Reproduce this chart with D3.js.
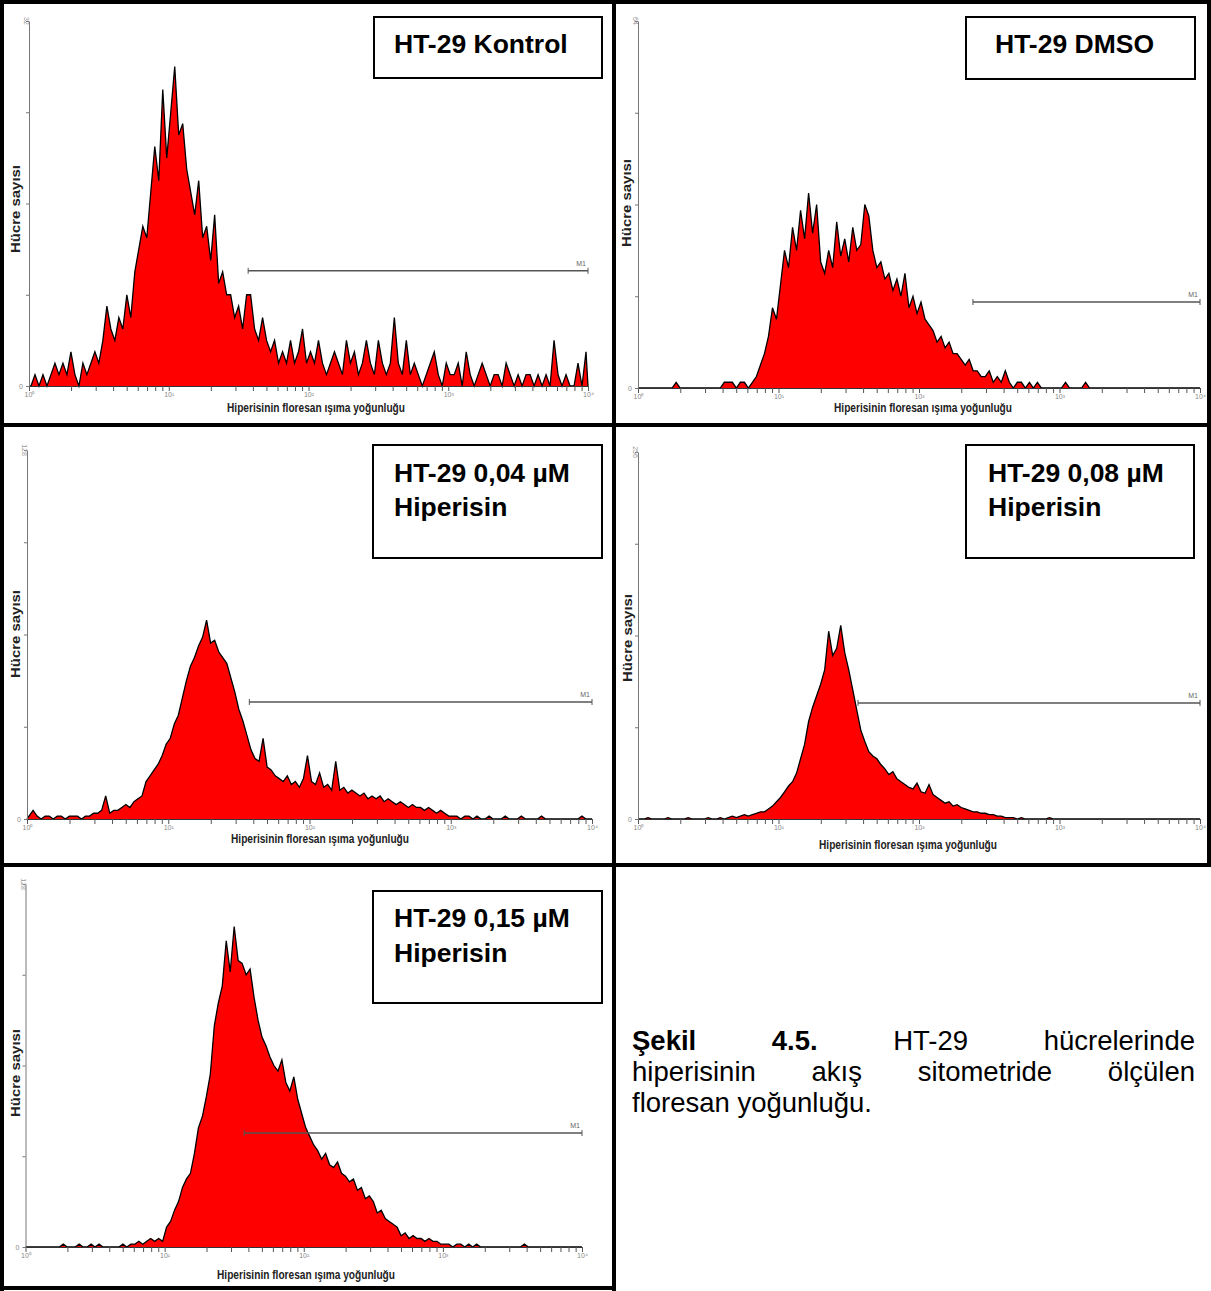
<!DOCTYPE html>
<meta charset="utf-8">
<script src="https://d3js.org/d3.v7.min.js"></script>
<style>
  body { margin: 0; background: #fff; }
  svg { display: block; }
</style>
<div id="fig"></div>
<script>
// --- data (140 log-spaced channels from 10^0 to 10^4) ---
var nChannels = 140;
var panelNames = [["HT-29 Kontrol"], ["HT-29 DMSO"], ["HT-29 0,04 µM", "Hiperisin"],
                  ["HT-29 0,08 µM", "Hiperisin"], ["HT-29 0,15 µM", "Hiperisin"]];
var yMaxes = [32, 64, 128, 256, 128];
var m1Start = [37, 242, 37.5, 36.8, 37.3];
var m1Level = [10.1, 15, 40.6, 81, 40.2];
var decadeTicks = [1, 10, 100, 1000, 10000];
var decadeLabels = ["10\u2070", "10\u00b9", "10\u00b2", "10\u00b3", "10\u2074"];
var xTitle = "Hiperisinin floresan ışıma yoğunluğu";
var yTitle = "Hücre sayısı";

var kontrol = [
  0,1,0,1,0,1,2,1,2,1, 3,1,0,2,1,2,3,2,4,7, 5,4,6,5,8,6,10,12,14,13,
  17,21,18,26,20,24,28,22,23,19, 17,15,18,13,14,11,15,9,10,8, 8,6,7,5,8,8,5,4,6,4,
  3,4,2,3,2,4,2,3,5,2, 3,2,4,2,1,2,3,2,1,4, 2,3,1,2,4,2,1,4,2,1,
  2,6,2,1,4,1,2,1,0,1, 2,3,1,0,2,1,1,2,0,3, 1,0,1,2,1,0,1,1,0,2,
  1,0,1,0,1,1,0,1,0,1, 0,4,1,0,1,0,0,2,0,3];
var dmso = [
  0,0,0,0,0,0,0,0,0,1, 0,0,0,0,0,0,0,0,0,0, 0,1,1,1,0,1,1,0,1,2,
  4,6,9,14,12,18,24,21,28,24, 31,26,34,27,32,22,20,24,21,29, 23,26,22,28,24,25,32,30,24,21,
  22,19,20,17,19,16,20,14,16,13, 15,12,11,10,8,9,7,8,6,6, 5,4,5,3,3,2,2,3,1,2,
  1,3,1,0,1,1,0,1,0,1, 0,0,0,0,0,0,1,0,0,0, 0,1,0,0,0,0,0,0,0,0,
  0,0,0,0,0,0,0,0,0,0, 0,0,0,0,0,0,0,0,0,0];
var hip004 = [
  1,3,1,0,1,1,0,1,1,0, 1,1,1,0,1,1,2,2,3,8, 2,3,3,4,5,4,6,7,8,13,
  15,17,19,22,26,28,33,36,42,48, 53,56,60,63,69,61,62,58,56,54, 49,44,38,34,29,24,21,20,28,18,
  17,15,14,13,15,12,13,11,14,22, 13,12,16,11,12,10,20,10,11,9, 10,9,8,9,7,8,7,8,6,7,
  6,5,6,5,4,5,4,4,3,4, 3,2,3,2,1,1,1,0,1,1, 0,1,0,0,1,0,0,0,1,0,
  0,0,1,0,0,0,0,1,0,0, 0,0,0,0,0,0,0,1,0,0];
var hip008 = [
  0,0,1,0,0,0,0,1,0,0, 0,0,1,0,0,0,0,1,0,0, 1,0,1,2,1,2,3,2,3,4,
  5,5,7,9,12,15,19,23,26,32, 42,52,68,78,86,94,104,131,114,119, 135,116,104,90,76,62,54,47,44,42,
  38,35,31,33,28,26,24,22,21,25, 19,18,24,17,15,13,11,12,9,10, 8,7,6,5,5,4,4,3,3,2,
  2,1,1,1,0,1,0,0,0,0, 0,0,1,0,0,0,0,0,0,0, 0,0,0,0,0,0,0,0,0,0,
  0,0,0,0,0,0,0,0,0,0, 0,0,0,0,0,0,0,0,0,0];
var hip015 = [
  0,0,0,0,0,0,0,0,0,1, 0,0,0,1,0,0,1,0,1,0, 0,0,0,0,1,0,1,1,2,1,
  2,3,2,3,2,7,9,13,16,21, 24,26,33,42,46,53,61,78,86,92, 108,97,113,101,100,96,98,88,80,74,
  71,67,64,62,66,58,55,60,52,47, 42,39,36,34,31,33,29,28,30,26, 25,23,24,20,21,17,18,16,12,13,
  10,9,8,7,4,5,3,4,3,3, 2,3,2,2,1,1,1,0,1,1, 0,1,0,1,0,0,0,0,0,0,
  0,0,0,0,0,1,0,0,0,0, 0,0,0,0,0,0,0,0,0,0];
var series = [kontrol, dmso, hip004, hip008, hip015];

// --- layout (pixels) ---
var W = 1211, H = 1291;
var frames = [
  { x0: 29,  x1: 588,  top: 21,  base: 386 },
  { x0: 638, x1: 1200, top: 21,  base: 388 },
  { x0: 27,  x1: 592,  top: 450, base: 819 },
  { x0: 638, x1: 1200, top: 452, base: 819 },
  { x0: 25.5,x1: 582,  top: 884, base: 1247 }
];
var boxes = [
  { x: 374, y: 17,  w: 228, h: 61,  tx: 394, ty: [53] },
  { x: 966, y: 17,  w: 229, h: 62,  tx: 995, ty: [53] },
  { x: 373, y: 445, w: 229, h: 113, tx: 394, ty: [482, 516] },
  { x: 966, y: 445, w: 228, h: 113, tx: 988, ty: [482, 516] },
  { x: 373, y: 891, w: 229, h: 112, tx: 394, ty: [927, 962] }
];
var xTitlePos = [[316, 412], [923, 412], [320, 843], [908, 849], [306, 1279]];
var yTitlePos = [[16, 209], [627, 203], [16, 634], [628, 638], [16, 1073]];

var svg = d3.select("#fig").append("svg")
  .attr("width", W).attr("height", H)
  .style("font-family", "'Liberation Sans', Arial, sans-serif");

var channels = d3.range(nChannels).map(function(i) {
  return Math.pow(10, 4 * (i + 0.5) / nChannels);
});

// minor + major log ticks
var allTicks = [];
for (var d = 0; d < 4; d++) {
  for (var k = 1; k < 10; k++) allTicks.push(k * Math.pow(10, d));
}
allTicks.push(10000);

series.forEach(function(vals, p) {
  var f = frames[p];
  var x = d3.scaleLog().domain([1, 10000]).range([f.x0, f.x1]);
  var y = d3.scaleLinear().domain([0, yMaxes[p]]).range([f.base, f.top]);
  var g = svg.append("g");

  var pts = [[1, 0]].concat(channels.map(function(c, i) { return [c, vals[i]]; }), [[10000, 0]]);

  g.append("path")
    .datum(pts)
    .attr("fill", "#ff0000")
    .attr("d", d3.area().x(function(d) { return x(d[0]); }).y0(y(0)).y1(function(d) { return y(d[1]); }));
  g.append("path")
    .datum(pts)
    .attr("fill", "none")
    .attr("stroke", "#000")
    .attr("stroke-width", 1.3)
    .attr("stroke-linejoin", "miter")
    .attr("d", d3.line().x(function(d) { return x(d[0]); }).y(function(d) { return y(d[1]); }));

  // x axis
  var xa = g.append("g")
    .attr("transform", "translate(0," + f.base + ")")
    .call(d3.axisBottom(x).tickValues(allTicks).tickSize(5).tickSizeOuter(0)
      .tickFormat(function(v) {
        var idx = decadeTicks.indexOf(v);
        return idx >= 0 ? decadeLabels[idx] : "";
      }));
  xa.select(".domain").attr("stroke", "#333").attr("stroke-width", 1.2);
  xa.selectAll(".tick line").attr("stroke", "#555");
  xa.selectAll(".tick text").attr("fill", "#888").style("font-size", "7px").attr("y", 6).attr("dy", "0.7em");

  // y axis
  var ya = g.append("g")
    .attr("transform", "translate(" + f.x0 + ",0)")
    .call(d3.axisLeft(y).tickValues(d3.range(5).map(function(i) { return yMaxes[p] * i / 4; }))
      .tickSize(3).tickSizeOuter(0).tickFormat(""));
  ya.select(".domain").attr("stroke", "#777");
  ya.selectAll(".tick line").attr("stroke", "#777");

  g.append("text")
    .attr("x", f.x0 - 6).attr("y", f.base + 3)
    .attr("text-anchor", "end")
    .attr("fill", "#888").style("font-size", "7px")
    .text("0");
  g.append("text")
    .attr("transform", "translate(" + (f.x0 - 5) + "," + y(yMaxes[p]) + ") rotate(90)")
    .attr("text-anchor", "middle")
    .attr("fill", "#999").style("font-size", "7px")
    .text(yMaxes[p]);

  // M1 marker
  var mx0 = x(m1Start[p]), mx1 = x(10000), my = y(m1Level[p]);
  g.append("line").attr("x1", mx0).attr("x2", mx1).attr("y1", my).attr("y2", my)
    .attr("stroke", "#555").attr("stroke-width", 1.5);
  [mx0, mx1].forEach(function(mx) {
    g.append("line").attr("x1", mx).attr("x2", mx).attr("y1", my - 3).attr("y2", my + 3)
      .attr("stroke", "#555").attr("stroke-width", 1);
  });
  g.append("text").attr("x", mx1 - 2).attr("y", my - 5)
    .attr("text-anchor", "end").attr("fill", "#666").style("font-size", "7px").text("M1");

  // axis titles
  g.append("text")
    .attr("x", xTitlePos[p][0]).attr("y", xTitlePos[p][1])
    .attr("text-anchor", "middle")
    .attr("textLength", 178).attr("lengthAdjust", "spacingAndGlyphs")
    .style("font-size", "12px").style("font-weight", "bold").attr("fill", "#222")
    .text(xTitle);
  g.append("text")
    .attr("transform", "translate(" + (yTitlePos[p][0] + 4) + "," + yTitlePos[p][1] + ") rotate(-90)")
    .attr("text-anchor", "middle")
    .attr("textLength", 88).attr("lengthAdjust", "spacingAndGlyphs")
    .style("font-size", "12px").style("font-weight", "bold").attr("fill", "#222")
    .text(yTitle);

  // title box
  var b = boxes[p];
  g.append("rect").attr("x", b.x).attr("y", b.y).attr("width", b.w).attr("height", b.h)
    .attr("fill", "#fff").attr("stroke", "#000").attr("stroke-width", 2);
  panelNames[p].forEach(function(line, li) {
    g.append("text").attr("x", b.tx).attr("y", b.ty[li])
      .style("font-size", "26.5px").style("font-weight", "bold").attr("fill", "#000")
      .text(line);
  });
});

// panel borders
var borders = [
  [0, 2, W, 2], [2, 0, 2, H], [614, 0, 614, H], [W - 2, 0, W - 2, 867],
  [0, 425, W, 425], [0, 865, W, 865], [0, H - 3, 614, H - 3]
];
svg.selectAll("line.border").data(borders).enter().append("line")
  .attr("class", "border")
  .attr("x1", function(d) { return d[0]; }).attr("y1", function(d) { return d[1]; })
  .attr("x2", function(d) { return d[2]; }).attr("y2", function(d) { return d[3]; })
  .attr("stroke", "#000").attr("stroke-width", 4);

// caption, justified between left and right
var capLeft = 632, capRight = 1195;
var capLines = [
  { y: 1050, justify: true, words: [["Şekil", true], ["4.5.", true], ["HT-29", false], ["hücrelerinde", false]] },
  { y: 1081, justify: true, words: [["hiperisinin", false], ["akış", false], ["sitometride", false], ["ölçülen", false]] },
  { y: 1112, justify: false, words: [["floresan", false], ["yoğunluğu.", false]] }
];
capLines.forEach(function(line) {
  var nodes = line.words.map(function(w) {
    return svg.append("text").attr("y", line.y)
      .style("font-size", "27.5px").style("font-weight", w[1] ? "bold" : "normal")
      .attr("fill", "#000").text(w[0]);
  });
  var widths = nodes.map(function(n) { return n.node().getComputedTextLength(); });
  var total = d3.sum(widths);
  var gap = line.justify ? (capRight - capLeft - total) / (nodes.length - 1) : 7.6;
  var cx = capLeft;
  nodes.forEach(function(n, i) {
    n.attr("x", cx);
    cx += widths[i] + gap;
  });
});
</script>
